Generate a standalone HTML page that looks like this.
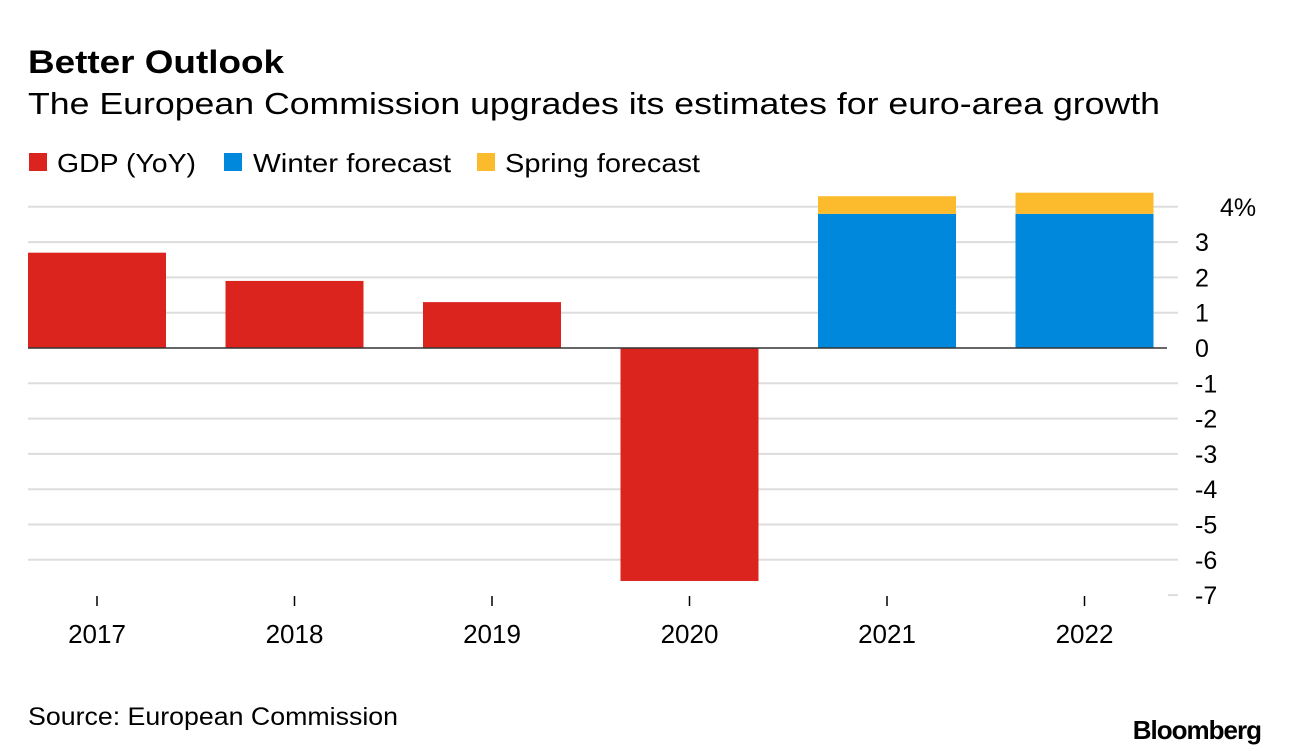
<!DOCTYPE html>
<html><head><meta charset="utf-8"><style>
body{margin:0;background:#fff;font-family:"Liberation Sans",sans-serif;}
#wrap{position:relative;width:1289px;height:756px;overflow:hidden;}
</style></head><body>
<div id="wrap">
<svg width="1289" height="756" id="svg">
<text x="28" y="73" font-size="32" font-weight="bold" fill="#000" textLength="256" lengthAdjust="spacingAndGlyphs">Better Outlook</text>
<text x="28" y="114" font-size="31" fill="#000" textLength="1132" lengthAdjust="spacingAndGlyphs">The European Commission upgrades its estimates for euro-area growth</text>
<g>
<rect x="29" y="153" width="18" height="18" fill="#dc241f"/>
<text x="57" y="172" font-size="26" textLength="139" lengthAdjust="spacingAndGlyphs">GDP (YoY)</text>
<rect x="224" y="153" width="18" height="18" fill="#0088dd"/>
<text x="253" y="172" font-size="26" textLength="198" lengthAdjust="spacingAndGlyphs">Winter forecast</text>
<rect x="477" y="153" width="18" height="18" fill="#fbbb2c"/>
<text x="505" y="172" font-size="26" textLength="195" lengthAdjust="spacingAndGlyphs">Spring forecast</text>
</g>
<g id="grid"></g><g id="bars"></g><g id="axes"></g>
<text x="28" y="725" font-size="25" textLength="370" lengthAdjust="spacingAndGlyphs">Source: European Commission</text>
<text x="1261" y="739" font-size="26" font-weight="bold" text-anchor="end" letter-spacing="-1">Bloomberg</text>
</svg>
</div>
<script>
const categories=["2017","2018","2019","2020","2021","2022"];
const gdp=[2.7,1.9,1.3,-6.6,null,null];
const winter=[null,null,null,null,3.8,3.8];
const spring=[null,null,null,null,4.3,4.4];
const yTicks=[4,3,2,1,0,-1,-2,-3,-4,-5,-6,-7];
const yTickLabels=["4%","3","2","1","0","-1","-2","-3","-4","-5","-6","-7"];
const NS="http://www.w3.org/2000/svg";
function y(v){return 348-v*35.3;}
function xc(i){return 97+i*197.5;}
function mk(tag,attrs,parent){const e=document.createElementNS(NS,tag);for(const k in attrs)e.setAttribute(k,attrs[k]);document.getElementById(parent).appendChild(e);return e;}
yTicks.forEach((t,i)=>{
  if(t===-7){const d=mk('line',{x1:1168,x2:1178,y1:y(t),y2:y(t),stroke:'#ddd','stroke-width':2},'grid');
    
    }
  else if(t!==0){const g=mk('line',{x1:28,x2:1178,y1:y(t),y2:y(t),stroke:'#ddd','stroke-width':2},'grid');
    
    }
  const tx=mk('text',{x:t===4?1220:1195,y:y(t)+9,'font-size':25},'axes');
  tx.textContent=yTickLabels[i];
  
  
});
function bar(i,v0,v1,color,name){
  const r=mk('rect',{x:xc(i)-69,width:138,y:y(Math.max(v0,v1)),height:Math.abs(y(v0)-y(v1)),fill:color},'bars');
  
  
}
categories.forEach((c,i)=>{
  if(gdp[i]!=null)bar(i,0,gdp[i],'#dc241f','bar-gdp-'+c);
  if(winter[i]!=null)bar(i,0,winter[i],'#0088dd','bar-winter-'+c);
  if(spring[i]!=null)bar(i,winter[i],spring[i],'#fbbb2c','bar-spring-'+c);
  const tk=mk('line',{x1:xc(i),x2:xc(i),y1:596,y2:606,stroke:'#000','stroke-width':1.5},'axes');
  
  
  const t=mk('text',{x:xc(i),y:643,'font-size':26,'text-anchor':'middle'},'axes');
  t.textContent=c;
  
  
});
const z=mk('line',{x1:28,x2:1167,y1:y(0),y2:y(0),stroke:'#333','stroke-width':1.5},'axes');


</script>
</body></html>
